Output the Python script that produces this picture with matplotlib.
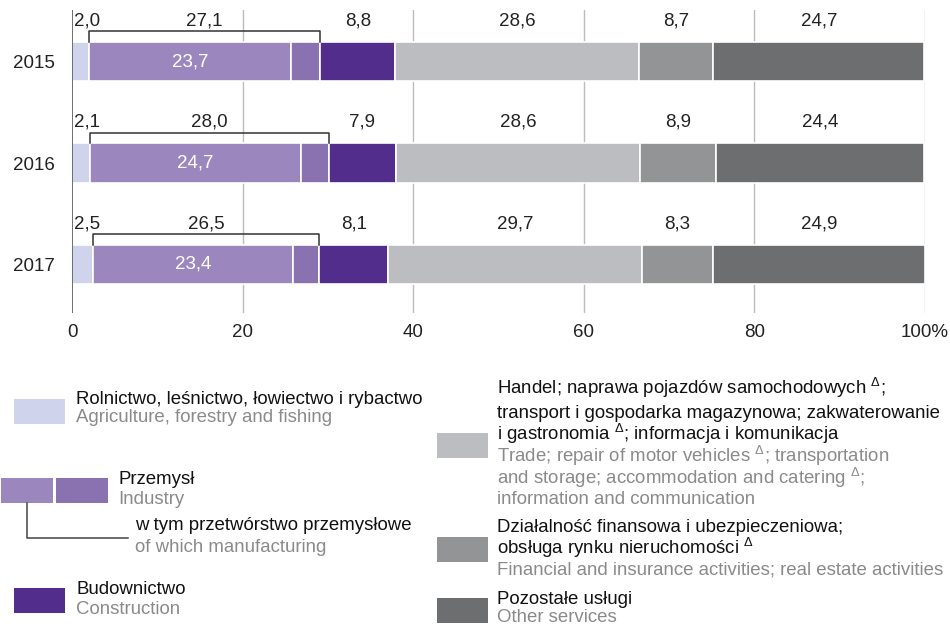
import numpy as np
import matplotlib
matplotlib.use('Agg')
import matplotlib.pyplot as plt
from matplotlib.patches import Rectangle
from matplotlib.lines import Line2D

plt.rcParams['font.family'] = ['Liberation Sans', 'DejaVu Sans']
plt.rcParams['mathtext.fontset'] = 'custom'
plt.rcParams['mathtext.rm'] = 'Liberation Sans'
plt.rcParams['mathtext.it'] = 'Liberation Sans'

# data (% shares)
years = ['2015', '2016', '2017']
agri = [2.0, 2.1, 2.5]
industry = [27.1, 28.0, 26.5]
manufacturing = [23.7, 24.7, 23.4]
construction = [8.8, 7.9, 8.1]
trade = [28.6, 28.6, 29.7]
finance = [8.7, 8.9, 8.3]
other = [24.7, 24.4, 24.9]

c_agri = '#cfd3ec'
c_manu = '#9b87be'
c_ind = '#8a72b0'
c_cons = '#522d8c'
c_trade = '#bcbdc0'
c_fin = '#939496'
c_oth = '#6d6e70'
c_en = '#8a8a8a'

W, H = 950, 625
fig = plt.figure(figsize=(9.5, 6.25), dpi=100)
ax = fig.add_axes([72/W, 1-313/H, (925-72)/W, (313-10)/H])

y = np.arange(len(years))
agri = np.array(agri)
industry = np.array(industry)
manufacturing = np.array(manufacturing)
construction = np.array(construction)
trade = np.array(trade)
finance = np.array(finance)
other = np.array(other)

bh = 0.39
kw = dict(height=bh, edgecolor='white', linewidth=1.2, zorder=2)
left = np.zeros(3)
ax.barh(y, agri, left=left, color=c_agri, **kw)
left = left + agri
ax.barh(y, manufacturing, left=left, color=c_manu, **kw)
ax.barh(y, industry - manufacturing, left=left + manufacturing, color=c_ind, **kw)
left = left + industry
ax.barh(y, construction, left=left, color=c_cons, **kw)
left = left + construction
ax.barh(y, trade, left=left, color=c_trade, **kw)
left = left + trade
ax.barh(y, finance, left=left, color=c_fin, **kw)
left = left + finance
ax.barh(y, other, left=left, color=c_oth, **kw)

# grid
for gx in [20, 40, 60, 80, 100]:
    ax.axvline(gx, color='#bcbcbc', lw=1, zorder=1)
ax.axvline(0, color='#555555', lw=1.2, zorder=3)

# labels
fs = 13.5
def fmt(v):
    return f'{v:.1f}'.replace('.', ',')

for i in range(3):
    top = y[i] - bh/2
    ax.text(0.2, y[i]-0.4, fmt(agri[i]), ha='left', va='center', fontsize=fs, color='#222222')
    x0 = agri[i]
    x1 = agri[i] + industry[i]
    ax.plot([x0, x0, x1, x1], [top, y[i]-0.3, y[i]-0.3, top], color='#333333', lw=1.1, zorder=4)
    ax.text((x0+x1)/2, y[i]-0.4, fmt(industry[i]), ha='center', va='center', fontsize=fs, color='#222222')
    ax.text(x0 + manufacturing[i]/2, y[i], fmt(manufacturing[i]), ha='center', va='center', fontsize=fs, color='white', zorder=5)
    s = x1
    for v in [construction[i], trade[i], finance[i], other[i]]:
        ax.text(s + v/2, y[i]-0.4, fmt(v), ha='center', va='center', fontsize=fs, color='#222222')
        s += v

ax.set_xlim(0, 100)
ax.set_ylim(2.48, -0.51)
ax.set_yticks(y)
ax.set_yticklabels(years, fontsize=fs, color='#222222')
ax.set_xticks([0, 20, 40, 60, 80, 100])
ax.set_xticklabels(['0', '20', '40', '60', '80', '100%'], fontsize=fs, color='#222222')
ax.tick_params(axis='y', length=0, pad=12)
ax.tick_params(axis='x', length=0, pad=8)
for sp in ax.spines.values():
    sp.set_visible(False)

# legend
lfs = 13.4
def swatch(x, y0, w, h, c):
    fig.add_artist(Rectangle((x/W, 1-(y0+h)/H), w/W, h/H, transform=fig.transFigure, color=c, lw=0))

def txt(x, yy, s, c='#111111'):
    # yy is the visual centre of the line in pixels; place by baseline
    fig.text(x/W, 1-(yy+6.5)/H, s, ha='left', va='baseline', fontsize=lfs, color=c)

swatch(14, 399, 51, 25, c_agri)
txt(76, 397, 'Rolnictwo, leśnictwo, łowiectwo i rybactwo')
txt(76, 416, 'Agriculture, forestry and fishing', c_en)

swatch(1, 478, 52, 25, c_manu)
swatch(56, 478, 52, 25, c_ind)
txt(118, 477, 'Przemysł')
txt(118, 497, 'Industry', c_en)
fig.add_artist(Line2D([27/W, 27/W, 128/W], [1-503/H, 1-538/H, 1-538/H], transform=fig.transFigure, color='#444444', lw=1.1))
txt(135, 523, 'w tym przetwórstwo przemysłowe')
txt(135, 545, 'of which manufacturing', c_en)

swatch(14, 588, 51, 25, c_cons)
txt(76, 588, 'Budownictwo')
txt(76, 608, 'Construction', c_en)

swatch(437, 433, 51, 25, c_trade)
txt(497, 388, r'Handel; naprawa pojazdów samochodowych $^{\Delta}$;')
txt(497, 411, 'transport i gospodarka magazynowa; zakwaterowanie')
txt(497, 433, r'i gastronomia $^{\Delta}$; informacja i komunikacja')
txt(497, 455, r'Trade; repair of motor vehicles $^{\Delta}$; transportation', c_en)
txt(497, 477, r'and storage; accommodation and catering $^{\Delta}$;', c_en)
txt(497, 498, 'information and communication', c_en)

swatch(437, 537, 51, 25, c_fin)
txt(497, 525, 'Działalność finansowa i ubezpieczeniowa;')
txt(497, 548, r'obsługa rynku nieruchomości $^{\Delta}$')
txt(497, 568, 'Financial and insurance activities; real estate activities', c_en)

swatch(437, 598, 51, 25, c_oth)
txt(497, 597, 'Pozostałe usługi')
txt(497, 615, 'Other services', c_en)

fig.savefig('out.png', dpi=100)
